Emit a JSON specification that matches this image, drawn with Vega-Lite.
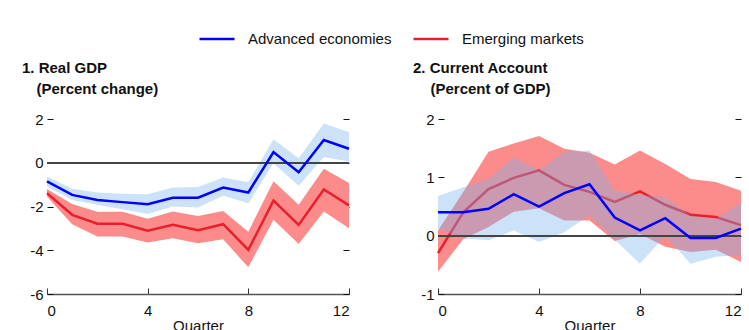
{
  "$schema": "https://vega.github.io/schema/vega-lite/v6.json",
  "padding": {"left": 22, "top": 20, "right": 5, "bottom": 0},
  "config": {
    "font": "Liberation Sans",
    "view": {"stroke": null},
    "axis": {"labelFont": "Liberation Sans", "titleFont": "Liberation Sans"},
    "title": {"font": "Liberation Sans"},
    "legend": {"labelFont": "Liberation Sans"}
  },
  "bounds": "flush",
  "spacing": 89,
  "datasets": {
    "d": [
      {"p": "gdp", "q": 0, "s": "Advanced economies", "v": -0.85, "lo": -1.08, "hi": -0.63},
      {"p": "gdp", "q": 1, "s": "Advanced economies", "v": -1.47, "lo": -1.70, "hi": -1.19},
      {"p": "gdp", "q": 2, "s": "Advanced economies", "v": -1.70, "lo": -1.92, "hi": -1.36},
      {"p": "gdp", "q": 3, "s": "Advanced economies", "v": -1.80, "lo": -2.12, "hi": -1.42},
      {"p": "gdp", "q": 4, "s": "Advanced economies", "v": -1.90, "lo": -2.34, "hi": -1.44},
      {"p": "gdp", "q": 5, "s": "Advanced economies", "v": -1.60, "lo": -2.00, "hi": -1.13},
      {"p": "gdp", "q": 6, "s": "Advanced economies", "v": -1.60, "lo": -2.05, "hi": -1.11},
      {"p": "gdp", "q": 7, "s": "Advanced economies", "v": -1.13, "lo": -1.51, "hi": -0.67},
      {"p": "gdp", "q": 8, "s": "Advanced economies", "v": -1.36, "lo": -1.85, "hi": -0.89},
      {"p": "gdp", "q": 9, "s": "Advanced economies", "v": 0.49, "lo": -0.02, "hi": 1.08},
      {"p": "gdp", "q": 10, "s": "Advanced economies", "v": -0.43, "lo": -1.05, "hi": 0.21},
      {"p": "gdp", "q": 11, "s": "Advanced economies", "v": 1.04, "lo": 0.26, "hi": 1.79},
      {"p": "gdp", "q": 12, "s": "Advanced economies", "v": 0.64, "lo": 0.06, "hi": 1.39},
      {"p": "gdp", "q": 0, "s": "Emerging markets", "v": -1.39, "lo": -1.54, "hi": -1.20},
      {"p": "gdp", "q": 1, "s": "Emerging markets", "v": -2.38, "lo": -2.81, "hi": -1.88},
      {"p": "gdp", "q": 2, "s": "Emerging markets", "v": -2.79, "lo": -3.37, "hi": -2.24},
      {"p": "gdp", "q": 3, "s": "Emerging markets", "v": -2.79, "lo": -3.37, "hi": -2.24},
      {"p": "gdp", "q": 4, "s": "Emerging markets", "v": -3.11, "lo": -3.65, "hi": -2.56},
      {"p": "gdp", "q": 5, "s": "Emerging markets", "v": -2.84, "lo": -3.45, "hi": -2.23},
      {"p": "gdp", "q": 6, "s": "Emerging markets", "v": -3.08, "lo": -3.68, "hi": -2.43},
      {"p": "gdp", "q": 7, "s": "Emerging markets", "v": -2.81, "lo": -3.50, "hi": -2.20},
      {"p": "gdp", "q": 8, "s": "Emerging markets", "v": -3.98, "lo": -4.78, "hi": -3.15},
      {"p": "gdp", "q": 9, "s": "Emerging markets", "v": -1.73, "lo": -2.61, "hi": -0.85},
      {"p": "gdp", "q": 10, "s": "Emerging markets", "v": -2.84, "lo": -3.71, "hi": -1.92},
      {"p": "gdp", "q": 11, "s": "Emerging markets", "v": -1.22, "lo": -2.23, "hi": -0.27},
      {"p": "gdp", "q": 12, "s": "Emerging markets", "v": -1.95, "lo": -2.99, "hi": -0.93},
      {"p": "ca", "q": 0, "s": "Advanced economies", "v": 0.40, "lo": 0.12, "hi": 0.68},
      {"p": "ca", "q": 1, "s": "Advanced economies", "v": 0.40, "lo": -0.05, "hi": 0.83},
      {"p": "ca", "q": 2, "s": "Advanced economies", "v": 0.46, "lo": -0.08, "hi": 0.97},
      {"p": "ca", "q": 3, "s": "Advanced economies", "v": 0.71, "lo": 0.09, "hi": 1.34},
      {"p": "ca", "q": 4, "s": "Advanced economies", "v": 0.50, "lo": -0.11, "hi": 1.12},
      {"p": "ca", "q": 5, "s": "Advanced economies", "v": 0.73, "lo": 0.06, "hi": 1.43},
      {"p": "ca", "q": 6, "s": "Advanced economies", "v": 0.88, "lo": 0.35, "hi": 1.46},
      {"p": "ca", "q": 7, "s": "Advanced economies", "v": 0.31, "lo": -0.07, "hi": 0.77},
      {"p": "ca", "q": 8, "s": "Advanced economies", "v": 0.09, "lo": -0.48, "hi": 0.70},
      {"p": "ca", "q": 9, "s": "Advanced economies", "v": 0.30, "lo": 0.00, "hi": 0.66},
      {"p": "ca", "q": 10, "s": "Advanced economies", "v": -0.04, "lo": -0.48, "hi": 0.34},
      {"p": "ca", "q": 11, "s": "Advanced economies", "v": -0.04, "lo": -0.36, "hi": 0.29},
      {"p": "ca", "q": 12, "s": "Advanced economies", "v": 0.12, "lo": -0.33, "hi": 0.56},
      {"p": "ca", "q": 0, "s": "Emerging markets", "v": -0.30, "lo": -0.62, "hi": 0.09},
      {"p": "ca", "q": 1, "s": "Emerging markets", "v": 0.40, "lo": -0.06, "hi": 0.75},
      {"p": "ca", "q": 2, "s": "Emerging markets", "v": 0.80, "lo": 0.15, "hi": 1.44},
      {"p": "ca", "q": 3, "s": "Emerging markets", "v": 0.99, "lo": 0.41, "hi": 1.58},
      {"p": "ca", "q": 4, "s": "Emerging markets", "v": 1.12, "lo": 0.47, "hi": 1.71},
      {"p": "ca", "q": 5, "s": "Emerging markets", "v": 0.87, "lo": 0.26, "hi": 1.49},
      {"p": "ca", "q": 6, "s": "Emerging markets", "v": 0.75, "lo": 0.26, "hi": 1.42},
      {"p": "ca", "q": 7, "s": "Emerging markets", "v": 0.58, "lo": -0.09, "hi": 1.22},
      {"p": "ca", "q": 8, "s": "Emerging markets", "v": 0.76, "lo": 0.03, "hi": 1.46},
      {"p": "ca", "q": 9, "s": "Emerging markets", "v": 0.53, "lo": -0.19, "hi": 1.23},
      {"p": "ca", "q": 10, "s": "Emerging markets", "v": 0.36, "lo": -0.28, "hi": 0.97},
      {"p": "ca", "q": 11, "s": "Emerging markets", "v": 0.32, "lo": -0.24, "hi": 0.92},
      {"p": "ca", "q": 12, "s": "Emerging markets", "v": 0.18, "lo": -0.45, "hi": 0.77}
    ]
  },
  "hconcat": [
    {
      "width": 302,
      "height": 175,
      "title": {"text": "1. Real GDP", "anchor": "start", "frame": "group", "dx": -25, "fontSize": 15, "fontWeight": "bold", "offset": 5, "color": "#111"},
      "data": {"name": "d"},
      "transform": [{"filter": "datum.p == 'gdp'"}],
      "layer": [
        {
          "transform": [{"filter": "datum.s == 'Emerging markets'"}],
          "mark": {"type": "area", "color": "#fc8b8b", "opacity": 1},
          "encoding": {
            "x": {"field": "q", "type": "quantitative", "scale": {"domain": [0, 12], "nice": false},
              "axis": {"values": [0, 4, 8, 12], "title": "Quarter", "domain": true, "domainColor": "#555", "domainWidth": 1.5, "tickSize": -6, "tickColor": "#333", "grid": false, "labelFontSize": 15, "labelColor": "#111", "labelPadding": 15, "titleFontSize": 15, "titleFontWeight": "normal", "titleColor": "#111", "titlePadding": 0}},
            "y": {"field": "lo", "type": "quantitative", "scale": {"domain": [-6, 2], "nice": false, "zero": false},
              "axis": {"orient": "left", "values": [-6, -4, -2, 0, 2], "labelExpr": "'' + datum.value", "title": "(Percent change)", "titleAngle": 0, "titleAlign": "left", "titleBaseline": "alphabetic", "titleX": -11, "titleY": -26, "titleFontSize": 15, "titleFontWeight": "bold", "titleColor": "#111", "domain": false, "grid": false, "tickSize": -6, "tickColor": "#111", "labelFontSize": 15, "labelColor": "#111", "labelPadding": 10}},
            "y2": {"field": "hi"}
          }
        },
        {
          "transform": [{"filter": "datum.s == 'Emerging markets'"}],
          "mark": {"type": "line", "strokeWidth": 2.5},
          "encoding": {
            "x": {"field": "q", "type": "quantitative", "scale": {"domain": [0, 12], "nice": false}},
            "y": {"field": "v", "type": "quantitative", "scale": {"domain": [-6, 2], "nice": false, "zero": false}, "axis": null},
            "color": {"field": "s", "type": "nominal", "scale": {"domain": ["Advanced economies", "Emerging markets"], "range": ["#0000ff", "#e8202c"]},
              "legend": {"orient": "none", "legendX": 151, "legendY": -99, "direction": "horizontal", "title": null, "symbolType": "stroke", "symbolSize": 1225, "symbolStrokeWidth": 2.5, "labelFontSize": 15, "labelColor": "#111", "labelOffset": 12, "columnPadding": 16}}
          }
        },
        {
          "transform": [{"filter": "datum.s == 'Advanced economies'"}],
          "mark": {"type": "area", "color": "#7ab4f0", "opacity": 0.38},
          "encoding": {
            "x": {"field": "q", "type": "quantitative", "scale": {"domain": [0, 12], "nice": false}},
            "y": {"field": "lo", "type": "quantitative", "scale": {"domain": [-6, 2], "nice": false, "zero": false}, "axis": null},
            "y2": {"field": "hi"}
          }
        },
        {
          "mark": {"type": "rule", "color": "#444", "strokeWidth": 1.5},
          "encoding": {
            "y": {"datum": 0, "type": "quantitative", "scale": {"domain": [-6, 2], "nice": false, "zero": false},
              "axis": {"orient": "right", "values": [-6, -4, -2, 0, 2], "title": null, "domain": false, "grid": false, "labels": false, "tickSize": -6, "tickColor": "#111"}}
          }
        },
        {
          "transform": [{"filter": "datum.s == 'Advanced economies'"}],
          "mark": {"type": "line", "strokeWidth": 2.5},
          "encoding": {
            "x": {"field": "q", "type": "quantitative", "scale": {"domain": [0, 12], "nice": false}},
            "y": {"field": "v", "type": "quantitative", "scale": {"domain": [-6, 2], "nice": false, "zero": false}, "axis": null},
            "color": {"field": "s", "type": "nominal", "scale": {"domain": ["Advanced economies", "Emerging markets"], "range": ["#0000ff", "#e8202c"]},
              "legend": {"orient": "none", "legendX": 151, "legendY": -99, "direction": "horizontal", "title": null, "symbolType": "stroke", "symbolSize": 1225, "symbolStrokeWidth": 2.5, "labelFontSize": 15, "labelColor": "#111", "labelOffset": 12, "columnPadding": 16}}
          }
        }
      ],
      "resolve": {"axis": {"y": "independent"}}
    },
    {
      "width": 303,
      "height": 175,
      "title": {"text": "2. Current Account", "anchor": "start", "frame": "group", "dx": -25, "fontSize": 15, "fontWeight": "bold", "offset": 5, "color": "#111"},
      "data": {"name": "d"},
      "transform": [{"filter": "datum.p == 'ca'"}],
      "layer": [
        {
          "transform": [{"filter": "datum.s == 'Emerging markets'"}],
          "mark": {"type": "area", "color": "#fc8b8b", "opacity": 1},
          "encoding": {
            "x": {"field": "q", "type": "quantitative", "scale": {"domain": [0, 12], "nice": false},
              "axis": {"values": [0, 4, 8, 12], "title": "Quarter", "domain": true, "domainColor": "#555", "domainWidth": 1.5, "tickSize": -6, "tickColor": "#333", "grid": false, "labelFontSize": 15, "labelColor": "#111", "labelPadding": 15, "titleFontSize": 15, "titleFontWeight": "normal", "titleColor": "#111", "titlePadding": 0}},
            "y": {"field": "lo", "type": "quantitative", "scale": {"domain": [-1, 2], "nice": false, "zero": false},
              "axis": {"orient": "left", "values": [-1, 0, 1, 2], "labelExpr": "'' + datum.value", "title": "(Percent of GDP)", "titleAngle": 0, "titleAlign": "left", "titleBaseline": "alphabetic", "titleX": -8, "titleY": -26, "titleFontSize": 15, "titleFontWeight": "bold", "titleColor": "#111", "domain": false, "grid": false, "tickSize": -6, "tickColor": "#111", "labelFontSize": 15, "labelColor": "#111", "labelPadding": 10}},
            "y2": {"field": "hi"}
          }
        },
        {
          "transform": [{"filter": "datum.s == 'Emerging markets'"}],
          "mark": {"type": "line", "strokeWidth": 2.5},
          "encoding": {
            "x": {"field": "q", "type": "quantitative", "scale": {"domain": [0, 12], "nice": false}},
            "y": {"field": "v", "type": "quantitative", "scale": {"domain": [-1, 2], "nice": false, "zero": false}, "axis": null},
            "color": {"field": "s", "type": "nominal", "scale": {"domain": ["Advanced economies", "Emerging markets"], "range": ["#0000ff", "#e8202c"]},
              "legend": {"orient": "none", "legendX": 151, "legendY": -99, "direction": "horizontal", "title": null, "symbolType": "stroke", "symbolSize": 1225, "symbolStrokeWidth": 2.5, "labelFontSize": 15, "labelColor": "#111", "labelOffset": 12, "columnPadding": 16}}
          }
        },
        {
          "transform": [{"filter": "datum.s == 'Advanced economies'"}],
          "mark": {"type": "area", "color": "#7ab4f0", "opacity": 0.38},
          "encoding": {
            "x": {"field": "q", "type": "quantitative", "scale": {"domain": [0, 12], "nice": false}},
            "y": {"field": "lo", "type": "quantitative", "scale": {"domain": [-1, 2], "nice": false, "zero": false}, "axis": null},
            "y2": {"field": "hi"}
          }
        },
        {
          "mark": {"type": "rule", "color": "#444", "strokeWidth": 1.5},
          "encoding": {
            "y": {"datum": 0, "type": "quantitative", "scale": {"domain": [-1, 2], "nice": false, "zero": false},
              "axis": {"orient": "right", "values": [-1, 0, 1, 2], "title": null, "domain": false, "grid": false, "labels": false, "tickSize": -6, "tickColor": "#111"}}
          }
        },
        {
          "transform": [{"filter": "datum.s == 'Advanced economies'"}],
          "mark": {"type": "line", "strokeWidth": 2.5},
          "encoding": {
            "x": {"field": "q", "type": "quantitative", "scale": {"domain": [0, 12], "nice": false}},
            "y": {"field": "v", "type": "quantitative", "scale": {"domain": [-1, 2], "nice": false, "zero": false}, "axis": null},
            "color": {"field": "s", "type": "nominal", "scale": {"domain": ["Advanced economies", "Emerging markets"], "range": ["#0000ff", "#e8202c"]},
              "legend": {"orient": "none", "legendX": 151, "legendY": -99, "direction": "horizontal", "title": null, "symbolType": "stroke", "symbolSize": 1225, "symbolStrokeWidth": 2.5, "labelFontSize": 15, "labelColor": "#111", "labelOffset": 12, "columnPadding": 16}}
          }
        }
      ],
      "resolve": {"axis": {"y": "independent"}}
    }
  ]
}
